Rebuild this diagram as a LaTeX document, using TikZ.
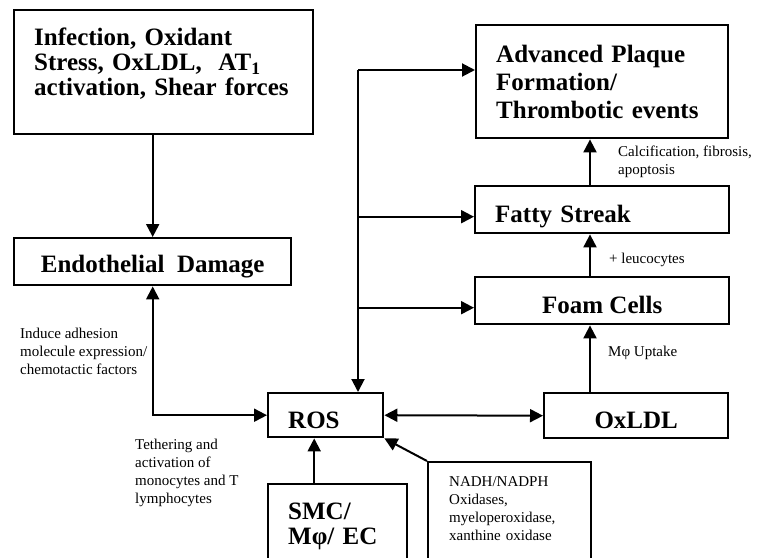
\documentclass[tikz,border=0pt]{standalone}
\usepackage{fontspec}
\setmainfont{Liberation Serif}
\usetikzlibrary{positioning,arrows.meta,calc}
\tikzset{
    base/.style={font=\rmfamily, align=left},
    box/.style={base, rectangle, draw, line width=2.4pt, inner xsep=20pt,
                anchor=north west, font=\bfseries\fontsize{25}{25}\selectfont},
    single/.style={text height=26pt, text depth=0pt},
    note/.style={base, anchor=north west, inner sep=0pt,
                 font=\fontsize{15}{18}\selectfont},
    flow/.style={-{Triangle[length=13pt,width=13pt]}, line width=2pt},
    both/.style={{Triangle[length=13pt,width=13pt]}-{Triangle[length=13pt,width=13pt]}, line width=2pt}
}
\begin{document}
\begin{tikzpicture}[x=1pt, y=-1pt]
  \useasboundingbox (0,0) rectangle (757,557);
  \clip (0,0) rectangle (757,557);

  % Left column
  \node[box, text width=259pt, inner ysep=18pt, text depth=70pt] (infect) at (13,9)
    {Infection, Oxidant\\Stress, OxLDL,~ AT\textsubscript{1}\\activation, Shear forces};
  \node[box, minimum width=277pt, minimum height=47pt, align=center,
        text height=21pt, text depth=0pt] (endo) at (13,237)
    {Endothelial~~Damage};

  % Right column
  \node[box, text width=212pt, minimum height=113pt, font=\bfseries\fontsize{25}{28}\selectfont] (adv) at (475,24)
    {Advanced Plaque\\Formation/\\Thrombotic events};
  \node[box, single, text width=214pt, minimum height=47pt] (fatty) at (474,185) {Fatty Streak};
  \node[box, single, minimum width=254pt, minimum height=47pt, align=center] (foam) at (474,276) {Foam Cells};
  \node[box, single, minimum width=184pt, minimum height=45pt, align=center] (oxldl) at (543,392) {OxLDL};

  % Bottom row
  \node[box, single, text width=75pt, minimum height=44pt] (ros) at (267,392) {ROS};
  \node[box, text width=99pt, inner ysep=19pt, text depth=40pt] (smc) at (267,483) {SMC/\\Mφ/ EC};
  \node[box, font=\fontsize{15}{18}\selectfont, text width=121pt, inner xsep=21pt,
        inner ysep=14pt, text depth=90pt] (nadh) at (427,461)
    {NADH/NADPH\\Oxidases,\\myeloperoxidase,\\xanthine oxidase};

  % Notes
  \node[note] (induce) at (20,328) {Induce adhesion\\molecule expression/\\chemotactic factors};
  \node[note] (tether) at (135,439) {Tethering and\\activation of\\monocytes and T\\lymphocytes};
  \node[note] (calc) at (618,146) {Calcification, fibrosis,\\apoptosis};
  \node[note] (leuco) at (609,253) {+ leucocytes};
  \node[note] (uptake) at (608,346) {Mφ Uptake};

  % Connectors
  \coordinate (split) at (358,70);
  \coordinate (col) at (590,0);
  \coordinate (fattyin) at ([yshift=-7pt]fatty.west);
  \coordinate (foamin) at ([yshift=-7pt]foam.west);
  \draw[flow] (endo.north |- infect.south) -- (endo.north);
  \draw[both] (endo.south) |- (ros.west);
  \draw[flow] (split) -- (split |- ros.north);
  \draw[flow] (split) -- (split -| adv.west);
  \draw[flow] (split |- fattyin) -- (fattyin);
  \draw[flow] (split |- foamin) -- (foamin);
  \draw[flow] (fatty.north -| col) -- (adv.south -| col);
  \draw[flow] (foam.north -| col) -- (fatty.south -| col);
  \draw[flow] (oxldl.north -| col) -- (foam.south -| col);
  \draw[both] (ros.east) -- (oxldl.west);
  \draw[flow] ([xshift=-23.5pt]smc.north) -- ([xshift=-23.5pt]smc.north |- ros.south);
  \draw[flow] (nadh.north west) -- (ros.south east);
\end{tikzpicture}
\end{document}
